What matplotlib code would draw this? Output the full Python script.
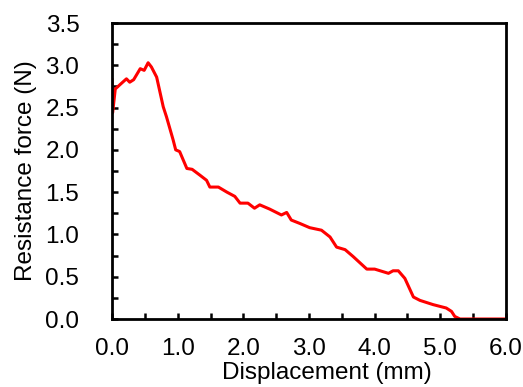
import numpy as np
import matplotlib.pyplot as plt
from matplotlib.ticker import MultipleLocator

plt.rcParams['font.family'] = ['Liberation Sans', 'DejaVu Sans']

disp = [0.0, 0.01, 0.05, 0.12, 0.22, 0.27, 0.33, 0.43, 0.49, 0.55, 0.60, 0.68, 0.78,
        0.83, 0.93, 0.97, 1.03, 1.14, 1.22, 1.34, 1.44, 1.49, 1.62, 1.75, 1.87,
        1.95, 2.07, 2.17, 2.25, 2.40, 2.58, 2.66, 2.73, 2.86, 3.01, 3.19, 3.32,
        3.42, 3.55, 3.67, 3.88, 4.00, 4.21, 4.28, 4.36, 4.46, 4.59, 4.69, 4.89,
        5.09, 5.17, 5.22, 5.30, 6.00]
force = [2.83, 2.44, 2.72, 2.77, 2.84, 2.80, 2.83, 2.96, 2.94, 3.03, 2.98, 2.86, 2.51,
         2.39, 2.12, 2.00, 1.98, 1.78, 1.77, 1.70, 1.64, 1.56, 1.56, 1.50, 1.45,
         1.37, 1.37, 1.31, 1.35, 1.30, 1.23, 1.26, 1.17, 1.13, 1.08, 1.05, 0.97,
         0.85, 0.82, 0.74, 0.59, 0.59, 0.54, 0.57, 0.57, 0.48, 0.26, 0.22, 0.17,
         0.13, 0.09, 0.03, 0.0, 0.0]

fig = plt.figure(figsize=(5.23, 3.87), dpi=100)
ax = fig.add_axes([112 / 523, 1 - 319 / 387, (506 - 112) / 523, (319 - 23) / 387])
ax.plot(disp, force, color='#ff0000', lw=2.2)

ax.set_xlim(0, 6)
ax.set_ylim(0, 3.5)
ax.xaxis.set_major_locator(MultipleLocator(1.0))
ax.xaxis.set_minor_locator(MultipleLocator(0.5))
ax.yaxis.set_major_locator(MultipleLocator(0.5))
ax.yaxis.set_minor_locator(MultipleLocator(0.25))
ax.xaxis.set_major_formatter(lambda v, p: f'{v:.1f}')
ax.yaxis.set_major_formatter(lambda v, p: f'{v:.1f}')
ax.tick_params(which='both', direction='in', width=1.8, length=4.5, labelsize=17.5,
               top=False, right=False)
ax.tick_params(axis='x', pad=14)
ax.tick_params(axis='y', pad=23.5)
for s in ax.spines.values():
    s.set_linewidth(2)

ax.set_xlabel('Displacement (mm)', fontsize=17.5)
ax.xaxis.set_label_coords(0.546, -0.145)
ax.set_ylabel('Resistance force (N)', fontsize=17.5, labelpad=6)

fig.savefig('out.png', dpi=100)
